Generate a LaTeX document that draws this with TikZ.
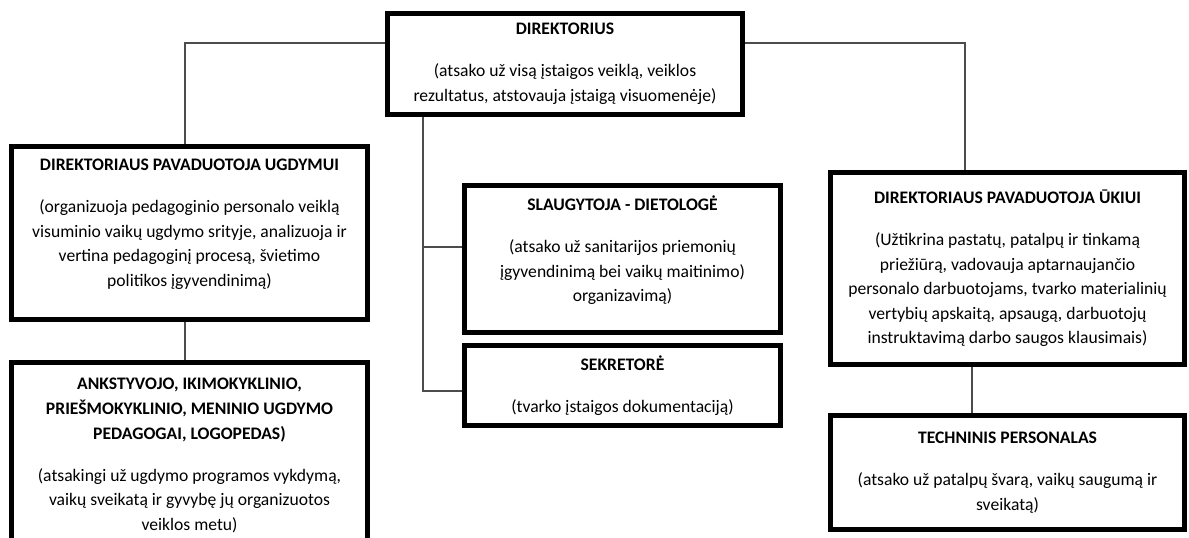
\documentclass[tikz,border=0pt]{standalone}
\usepackage{fontspec}
\setmainfont{Carlito}
\begin{document}
\begin{tikzpicture}[x=0.75pt,y=-0.75pt,
  box/.style={draw=black, line width=4pt, align=center, inner sep=0pt,
    font=\fontsize{13.2}{18.4}\selectfont},
  conn/.style={draw=black!70, line width=0.9pt}]
\useasboundingbox[fill=white] (0,0) rectangle (1189,537);

\node[box, minimum width=266.25pt, minimum height=75.75pt] (dir) at (565,64)
  {\textbf{DIREKTORIUS}\\[13.1pt](atsako už visą įstaigos veiklą, veiklos\\rezultatus, atstovauja įstaigą visuomenėje)};

\node[box, minimum width=267pt, minimum height=129.75pt] (ugd) at (189.5,233)
  {\textbf{DIREKTORIAUS PAVADUOTOJA UGDYMUI}\\[13.1pt](organizuoja pedagoginio personalo veiklą\\visuminio vaikų ugdymo srityje, analizuoja ir\\vertina pedagoginį procesą, švietimo\\politikos įgyvendinimą)\\[-3.1pt]\mbox{}};

\node[box, minimum width=267pt, minimum height=139.5pt] (ped) at (189.5,455.5)
  {\textbf{ANKSTYVOJO, IKIMOKYKLINIO,}\\\textbf{PRIEŠMOKYKLINIO, MENINIO UGDYMO}\\\textbf{PEDAGOGAI, LOGOPEDAS)}\\[13.1pt](atsakingi už ugdymo programos vykdymą,\\vaikų sveikatą ir gyvybę jų organizuotos\\veiklos metu)};

\node[box, minimum width=237pt, minimum height=110.25pt] (slaug) at (622.5,259)
  {\textbf{SLAUGYTOJA - DIETOLOGĖ}\\[13.1pt](atsako už sanitarijos priemonių\\įgyvendinimą bei vaikų maitinimo)\\organizavimą)\\[-3.1pt]\mbox{}};

\node[box, minimum width=237pt, minimum height=60pt] (sekr) at (622.5,385.5)
  {\textbf{SEKRETORĖ}\\[13.1pt](tvarko įstaigos dokumentaciją)};

\node[box, minimum width=265.5pt, minimum height=144pt] (uk) at (1007.5,268.5)
  {\textbf{DIREKTORIAUS PAVADUOTOJA ŪKIUI}\\[13.1pt](Užtikrina pastatų, patalpų ir tinkamą\\priežiūrą, vadovauja aptarnaujančio\\personalo darbuotojams, tvarko materialinių\\vertybių apskaitą, apsaugą, darbuotojų\\instruktavimą darbo saugos klausimais)};

\node[box, minimum width=265.5pt, minimum height=85.5pt] (tech) at (1007.5,472.5)
  {\textbf{TECHNINIS PERSONALAS}\\[13.1pt](atsako už patalpų švarą, vaikų saugumą ir\\sveikatą)};

\coordinate (tr) at ([xshift=-106.5pt]dir.south);
\draw[conn] ([yshift=15.75pt]dir.west) -| ([xshift=-3.4pt]ugd.north);
\draw[conn] ([yshift=15.75pt]dir.east) -| ([xshift=-31.9pt]uk.north);
\draw[conn] (tr) |- ([yshift=-4.1pt]sekr.west);
\draw[conn] ([yshift=9pt]slaug.west) -| (tr);
\draw[conn] ([xshift=-3.4pt]ugd.south) -- ([xshift=-3.4pt]ped.north);
\draw[conn] ([xshift=-26.6pt]uk.south) -- ([xshift=-26.6pt]tech.north);
\end{tikzpicture}
\end{document}
